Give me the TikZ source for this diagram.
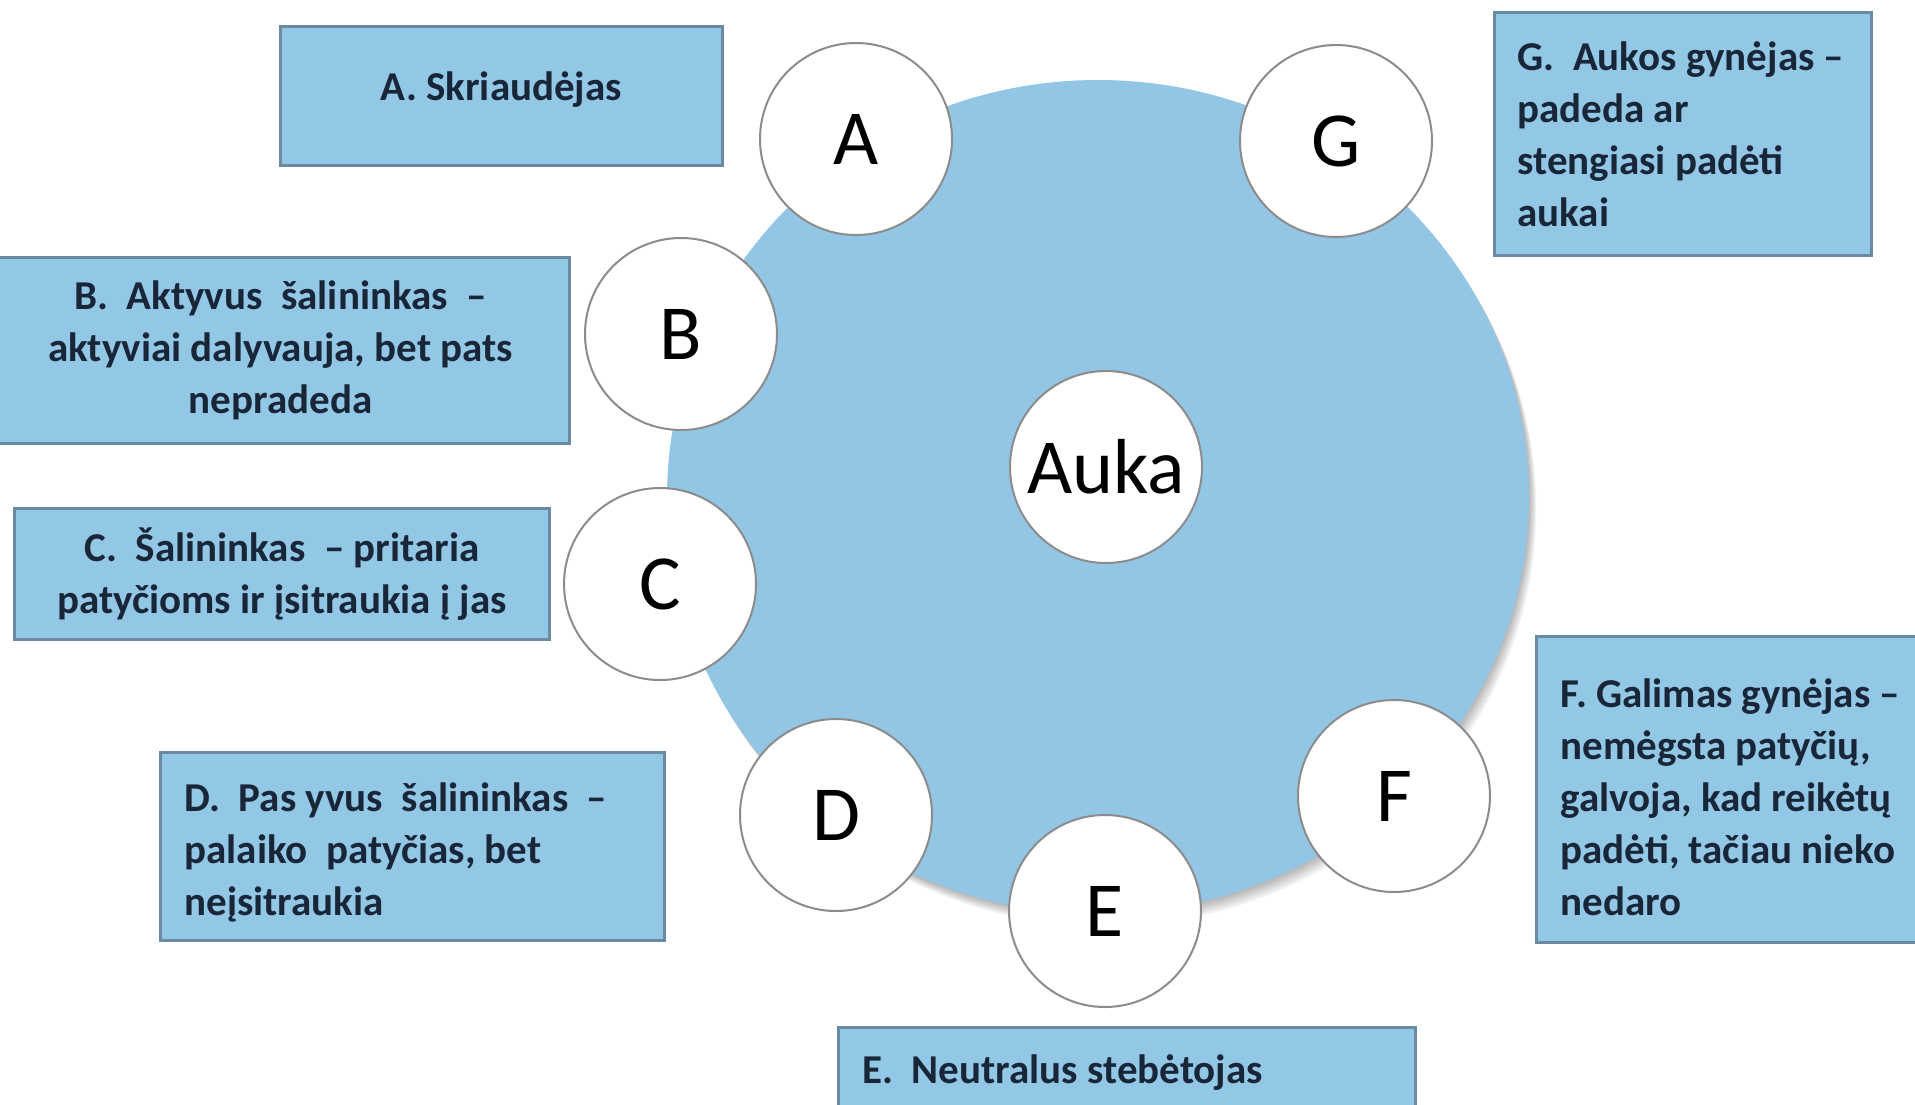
\documentclass[tikz,border=0pt]{standalone}
\usepackage{fontspec}
\setmainfont{Carlito}
\usetikzlibrary{shapes.geometric}
\definecolor{boxfill}{RGB}{147,199,230}
\definecolor{ringfill}{RGB}{147,198,229}
\definecolor{boxline}{RGB}{105,138,162}
\definecolor{ringline}{RGB}{140,140,140}
\definecolor{navy}{RGB}{24,38,56}
\newcommand{\boxfont}{\fontsize{20.5pt}{26pt}\selectfont\bfseries}
\newcommand{\letterfont}{\fontsize{39pt}{39pt}\selectfont}
\begin{document}
\begin{tikzpicture}[x=0.5pt,y=-0.5pt,
  box/.style={draw=boxline, line width=1.5pt, fill=boxfill, inner sep=0pt,
    font=\boxfont, text=navy, anchor=north west},
  midbox/.style={box, align=center},
  boxtext/.style={font=\boxfont, text=navy, align=left, inner sep=0pt},
  role/.style={circle, draw=ringline, line width=1pt, fill=white,
    minimum size=96pt, inner sep=0pt, font=\letterfont, text=black},
]
\useasboundingbox (0,0) rectangle (1915,1104);
% shadow of the big circle
\foreach \s in {2,4,6,8,10,12}
  \fill[black, opacity=0.05] (1098+0.6*\s,497+\s) ellipse [x radius=431, y radius=417];
\node[ellipse, fill=ringfill, minimum width=431pt, minimum height=417pt, inner sep=0pt] (ring) at (1098,497) {};

% boxes with centred text
\node[box, minimum width=221pt, minimum height=69.5pt] (bA) at (279,25) {};
\node[boxtext, align=center] (tA) at ([yshift=3pt]bA.center) {A. Skriaudėjas};
\node[midbox, minimum width=289pt, minimum height=93pt] (bB) at (-10,256)
  {B.\ \ Aktyvus\ \ šalininkas\ \ –\\aktyviai dalyvauja, bet pats\\nepradeda};
\node[midbox, minimum width=267.5pt, minimum height=65.5pt] (bC) at (13,507)
  {C.\ \ Šalininkas\ \ – pritaria\\patyčioms ir įsitraukia į jas};

% boxes with left-aligned text
\node[box, minimum width=252pt, minimum height=94pt] (bD) at (159,751) {};
\node[boxtext, anchor=west] (tD) at ([xshift=12.5pt,yshift=-3pt]bD.west)
  {D.\ \ Pas yvus\ \ šalininkas\ \ –\\palaiko\ \ patyčias, bet\\neįsitraukia};
\node[box, minimum width=288.5pt, minimum height=47pt] (bE) at (837,1026) {};
\node[boxtext, anchor=base west] (tE) at (862,1083) {E.\ \ Neutralus stebėtojas};
\node[box, minimum width=197.5pt, minimum height=153pt] (bF) at (1535,635) {};
\node[boxtext, anchor=west] (tF) at ([xshift=12.5pt,yshift=-4pt]bF.west)
  {F. Galimas gynėjas –\\nemėgsta patyčių,\\galvoja, kad reikėtų\\padėti, tačiau nieko\\nedaro};
\node[box, minimum width=188.5pt, minimum height=121.5pt] (bG) at (1493,11) {};
\node[boxtext, anchor=west] (tG) at ([xshift=12pt]bG.west)
  {G.\ \ Aukos gynėjas –\\padeda ar\\stengiasi padėti\\aukai};

% role circles
\node[role] (A) at (856,139) {A};
\node[role] (B) at (681,334) {B};
\node[role] (C) at (660,584) {C};
\node[role] (D) at (836,815) {D};
\node[role] (E) at (1105,911) {E};
\node[role] (F) at (1394,796) {F};
\node[role] (G) at (1336,141) {G};
\node[role] (auka) at (1106,467) {Auka};
\end{tikzpicture}
\end{document}
